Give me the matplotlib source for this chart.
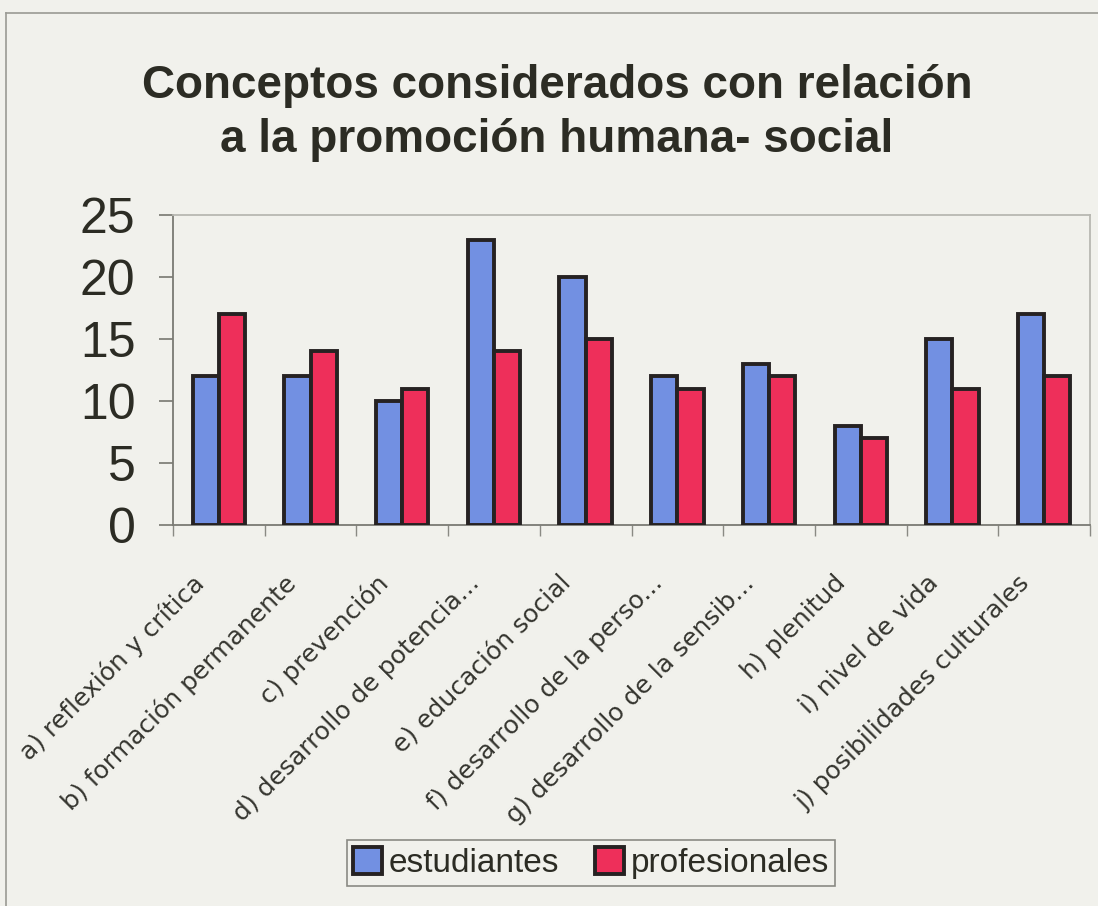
import matplotlib
matplotlib.use("Agg")
import matplotlib.pyplot as plt
import matplotlib.transforms as mtransforms
import numpy as np
from matplotlib.lines import Line2D

categories = [
    "a) reflexión y crítica",
    "b) formación permanente",
    "c) prevención",
    "d) desarrollo de potencia...",
    "e) educación social",
    "f) desarrollo de la perso...",
    "g) desarrollo de la sensib...",
    "h) plenitud",
    "i) nivel de vida",
    "j) posibilidades culturales",
]
estudiantes = [12, 12, 10, 23, 20, 12, 13, 8, 15, 17]
profesionales = [17, 14, 11, 14, 15, 11, 12, 7, 11, 12]
yticks = [0, 5, 10, 15, 20, 25]
title = "Conceptos considerados con relación\na la promoción humana- social"

BG = "#f1f1ec"
BLUE = "#7290e2"
RED = "#ee2f5a"
EDGE = "#262222"
TXT = "#2c2c24"

W, H = 1098, 906
fig = plt.figure(figsize=(W / 100, H / 100), dpi=100, facecolor=BG)
ax = fig.add_axes([173 / W, 1 - 525 / H, (1090 - 173) / W, (525 - 215) / H])
ax.set_facecolor(BG)

x = np.arange(len(categories))
bw = 0.286
ax.bar(x - bw / 2, estudiantes, bw, color=BLUE, edgecolor=EDGE, linewidth=2.8,
       label="estudiantes", zorder=3)
ax.bar(x + bw / 2, profesionales, bw, color=RED, edgecolor=EDGE, linewidth=2.8,
       label="profesionales", zorder=3)

ax.set_xlim(-0.5, len(categories) - 0.5)
ax.set_ylim(0, 25)
ax.set_yticks(yticks)
ax.set_yticklabels([str(v) for v in yticks], fontsize=36, family="Liberation Sans", color=TXT)
ax.tick_params(axis="y", length=10, width=1.2, color="#777770", pad=17, direction="out")

ax.set_xticks(x)
ax.set_xticklabels(categories, rotation=45, ha="right", va="top", rotation_mode="anchor",
                   fontsize=18, family="DejaVu Sans", color="#35352f")
ax.tick_params(axis="x", which="major", length=0, pad=33)
shift = mtransforms.ScaledTranslation(-27 / 100, 0, fig.dpi_scale_trans)
for lab in ax.get_xticklabels():
    lab.set_transform(lab.get_transform() + shift)
ax.set_xticks(np.arange(-0.5, len(categories), 1.0), minor=True)
ax.tick_params(axis="x", which="minor", length=8, width=1.0, color="#8a8a84", direction="out")

for s in ["left", "bottom"]:
    ax.spines[s].set_color("#7a7a74")
    ax.spines[s].set_linewidth(1.3)
for s in ["top", "right"]:
    ax.spines[s].set_color("#b8b8b2")
    ax.spines[s].set_linewidth(1.3)

fig.text(557 / W, 1 - 113 / H, title, ha="center", va="center", fontsize=33,
         fontweight="bold", family="Liberation Sans", color=TXT, linespacing=1.28)

# outer chart border
fig.add_artist(Line2D([6 / W, 6 / W], [0, 1 - 13 / H], transform=fig.transFigure,
                      color="#9a9a94", linewidth=1.2))
fig.add_artist(Line2D([6 / W, 1], [1 - 13 / H, 1 - 13 / H], transform=fig.transFigure,
                      color="#9a9a94", linewidth=1.2))

leg = fig.legend(loc="center", bbox_to_anchor=(591 / W, 1 - 863 / H), ncol=2,
                 prop={"family": "Liberation Sans", "size": 24}, frameon=True,
                 fancybox=False, edgecolor="#8a8a84", facecolor=BG, framealpha=1,
                 handlelength=0.85, handleheight=0.85, handletextpad=0.2,
                 columnspacing=1.1, borderpad=0.2, labelcolor=TXT)
leg.get_frame().set_linewidth(1.2)

fig.savefig("out.png", dpi=100, facecolor=BG)
